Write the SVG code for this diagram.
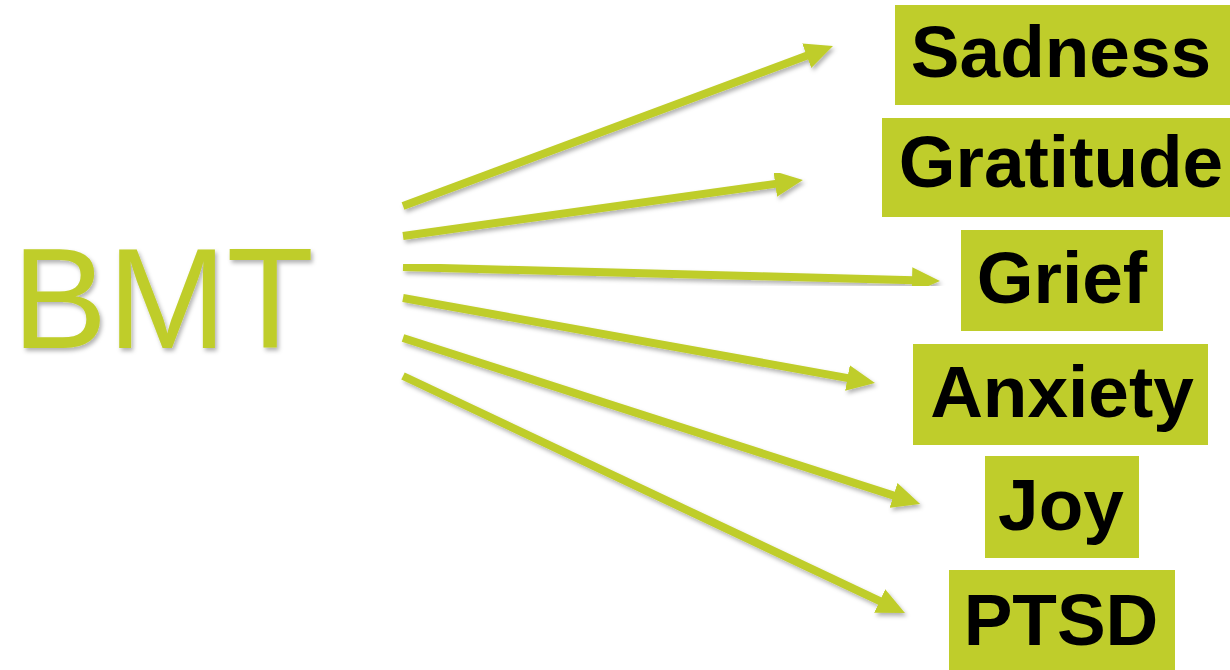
<svg xmlns="http://www.w3.org/2000/svg" width="1230" height="670" viewBox="0 0 1230 670">
<style>
.box{fill:#BFCD2B;}
.lbl{font-family:"Liberation Sans",Arial,sans-serif;font-weight:bold;font-size:73px;fill:#000;text-anchor:middle;}
.arr{stroke:#BFCD2B;stroke-width:8;fill:none;marker-end:url(#ah);filter:url(#sh);}
.bmt{font-family:"Liberation Sans",Arial,sans-serif;font-size:143px;fill:#BFCD2B;filter:url(#sh);}
</style>
<defs>
<filter id="sh" x="-10%" y="-20%" width="130%" height="160%">
<feDropShadow dx="2" dy="3" stdDeviation="2" flood-color="#000" flood-opacity="0.3"/>
</filter>
<marker id="ah" markerUnits="userSpaceOnUse" markerWidth="28" markerHeight="26" viewBox="0 0 28 26" refX="2" refY="13" orient="auto">
<path d="M0,0 L28,13 L0,26 z" fill="#BFCD2B"/>
</marker>
</defs>
<rect width="1230" height="670" fill="#fff"/>
<g id="bmt"><text class="bmt" x="12" y="348">BMT</text></g>
<g id="connectors">
<line class="arr" x1="403" y1="206" x2="808.6" y2="55.1"/>
<line class="arr" x1="403" y1="236" x2="777.2" y2="183.6"/>
<line class="arr" x1="403" y1="267" x2="914" y2="280.3"/>
<line class="arr" x1="403" y1="298" x2="849.4" y2="378.4"/>
<line class="arr" x1="403" y1="338" x2="895.4" y2="496.1"/>
<line class="arr" x1="403" y1="376" x2="881.5" y2="601.9"/>
</g>
<g id="sadness"><rect class="box" x="895" y="5" width="335" height="100"/><text class="lbl" x="1061" y="77">Sadness</text></g>
<g id="gratitude"><rect class="box" x="882" y="118" width="348" height="99"/><text class="lbl" x="1061" y="187">Gratitude</text></g>
<g id="grief"><rect class="box" x="961" y="230" width="202" height="101"/><text class="lbl" x="1062" y="303">Grief</text></g>
<g id="anxiety"><rect class="box" x="913" y="344" width="295" height="101"/><text class="lbl" x="1062" y="417">Anxiety</text></g>
<g id="joy"><rect class="box" x="985" y="456" width="154" height="102"/><text class="lbl" x="1061" y="530">Joy</text></g>
<g id="ptsd"><rect class="box" x="949" y="570" width="226" height="100"/><text class="lbl" x="1061" y="645">PTSD</text></g>
</svg>
